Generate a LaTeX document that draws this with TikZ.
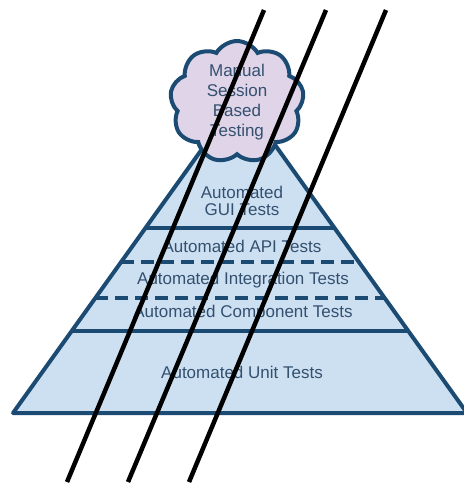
\documentclass[tikz,border=0pt]{standalone}
\usepackage{fontspec}
\setmainfont{Liberation Sans}
\usepackage{tikz}
\usetikzlibrary{positioning, calc, shapes.symbols}

\definecolor{pyrline}{HTML}{1B4A72}
\definecolor{pyrfill}{HTML}{CDE0F2}
\definecolor{pyrtext}{HTML}{34506F}
\definecolor{cloudfill}{HTML}{DFD4E8}

\begin{document}
\begin{tikzpicture}[
  x=1pt, y=-1pt,
  font=\fontsize{17}{18}\selectfont,
  layer/.style={text=pyrtext, align=center, inner sep=0pt},
  band/.style={draw=pyrline, line width=4pt},
  band dashed/.style={band, line width=3.5pt, dash pattern=on 13pt off 7pt},
  strike/.style={draw=black, line width=4.5pt}]

\clip (0,0) rectangle (464,483);

% pyramid
\coordinate (apex) at (240,96);
\coordinate (bl) at (13,413);
\coordinate (br) at (467,413);
\filldraw[fill=pyrfill, draw=pyrline, line width=4pt, line join=round]
  (apex) -- (br) -- (bl) -- cycle;

\draw[band] ($(apex)!0.4164!(bl)$) -- ($(apex)!0.4164!(br)$);
\draw[band dashed] ($(apex)!0.5237!(bl)$) -- ($(apex)!0.5237!(br)$);
\draw[band dashed] ($(apex)!0.6372!(bl)$) -- ($(apex)!0.6372!(br)$);
\draw[band] ($(apex)!0.7413!(bl)$) -- ($(apex)!0.7413!(br)$);

\node[layer] (gui) at (242,201) {Automated\\[-1pt]GUI Tests};
\node[layer] (api) at (242,246) {Automated API Tests};
\node[layer] (integ) at (243,280) {Automated Integration Tests};
\node[layer] (comp) at (243,313) {Automated Component Tests};
\node[layer] (unit) at (242,372) {Automated Unit Tests};

% cloud on top
\node[cloud, cloud puffs=9, cloud puff arc=120, draw=pyrline, fill=cloudfill,
      line width=4pt, minimum width=134pt, minimum height=112pt,
      layer, font=\fontsize{17}{20}\selectfont] (manual) at (237,102)
      {Manual\\Session\\Based\\Testing};

% strike lines
\coordinate (s1t) at (264,10);  \coordinate (s1b) at (67,482);
\coordinate (s2t) at (326,10);  \coordinate (s2b) at (128,482);
\coordinate (s3t) at (386,10);  \coordinate (s3b) at (189,482);
\draw[strike] (s1t) -- (s1b);
\draw[strike] (s2t) -- (s2b);
\draw[strike] (s3t) -- (s3b);
\end{tikzpicture}
\end{document}
